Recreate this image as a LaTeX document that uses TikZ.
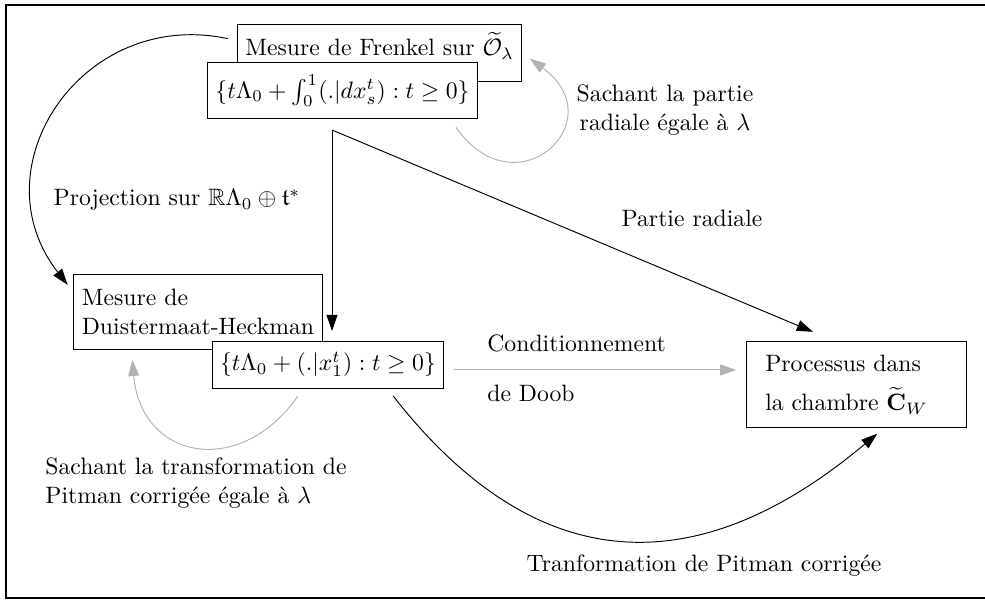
\documentclass[tikz,border=0pt]{standalone}
\usepackage{amsmath,amssymb}
\usepackage{xcolor}
\usetikzlibrary{arrows.meta, positioning}
\definecolor{lightgrey}{RGB}{178,178,178}

\begin{document}
\begin{tikzpicture}[x=0.4219pt, y=-0.4219pt,
            box/.style={draw, fill=white},
            arr/.style={-{Triangle[length=6.8pt, width=4.6pt]}, shorten >=4pt},
            greyarr/.style={arr, color=lightgrey}]
            \useasboundingbox (0,0) rectangle (985,601);
            \draw[thick] (6,5) rectangle (988,598);

            \node[box, anchor=north west, text depth=7.7pt] (frenkel) at (237,24) {Mesure de Frenkel sur $\widetilde{\mathcal{O}}_\lambda$};
            \node[box, minimum height=24pt] (frenkelset) at (342.5,90.5) {$\{t\Lambda_0+\int_0^1(.|dx^t_s) : t\geq 0\}$};
            \node[box, align=left, minimum height=32pt] (dh) at (198,312) {Mesure de\\Duistermaat-Heckman};
            \node[box, minimum height=19.8pt] (dhset) at (328,364.5) {$\{t\Lambda_0+(.|x^t_1) : t\geq 0\}$};
            \node[box, align=left, text width=77pt, inner xsep=8pt, inner ysep=5.5pt] (proc) at (856.5,384.5) {Processus dans\\[4.5pt]la chambre $\widetilde{\mathbf{C}}_W$};

            \coordinate (fork) at (332,130);
            \draw[arr, shorten <=4pt] (frenkel.175) to[out=168, in=128, looseness=1.35] (dh.171);
            \draw[arr] (fork) -- (fork |- dhset.north);
            \draw[arr] (fork) -- ([shift={(32pt,2.5pt)}]proc.north west);
            \draw[greyarr, shorten <=4pt] ([yshift=-2.3pt]dhset.east) -- ([yshift=-2.3pt]dhset.east -| proc.west);
            \draw[arr, shorten <=4pt] (dhset.-22) to[out=-52, in=-140, looseness=1.25] (proc.-57);
            \draw[greyarr, shorten <=4pt] (frenkelset.-15) to[out=-55, in=-36, looseness=3] (frenkel.east);
            \draw[greyarr, shorten <=4pt] (dhset.-136) to[out=-125, in=-85, looseness=1.6] (dh.-150);

            \node (projlbl) at (177,200) {Projection sur $\mathbb{R}\Lambda_0\oplus\mathfrak{t}^*$};
            \node[align=center] (radlbl) at (665,110) {Sachant la partie\\radiale égale à $\lambda$};
            \node (partlbl) at (692,218) {Partie radiale};
            \node[anchor=west] (condlbl) at (479,343) {Conditionnement};
            \node[anchor=west] (dooblbl) at (479,393) {de Doob};
            \node[align=left, anchor=west] (pitcondlbl) at (37,483) {Sachant la transformation de\\Pitman corrigée égale à $\lambda$};
            \node (pitlbl) at (704,566) {Tranformation de Pitman corrigée};
        \end{tikzpicture}
\end{document}
